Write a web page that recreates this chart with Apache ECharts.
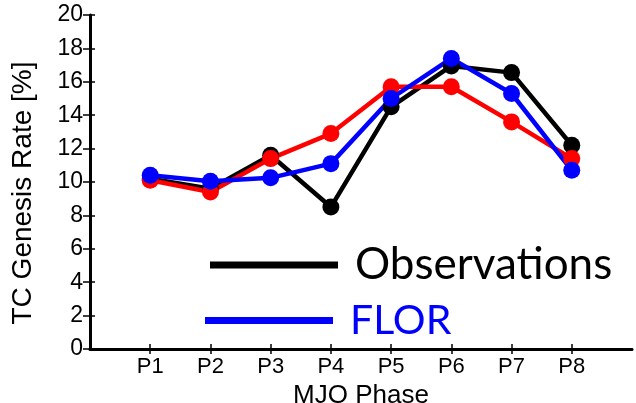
<!DOCTYPE html>
<html><head><meta charset="utf-8">
<script src="https://cdn.jsdelivr.net/npm/echarts@6/dist/echarts.min.js"></script>
<style>html,body{margin:0;padding:0;background:#fff}#c{width:636px;height:403px}</style>
</head><body><div id="c"></div>
<script>
const phases = [1, 2, 3, 4, 5, 6, 7, 8];
const phaseLabels = ['P1','P2','P3','P4','P5','P6','P7','P8'];
const observations = [10.2, 9.6, 11.6, 8.5, 14.5, 16.95, 16.55, 12.2];
const modelRed = [10.1, 9.4, 11.4, 12.9, 15.7, 15.7, 13.6, 11.4];
const flor = [10.4, 10.05, 10.25, 11.1, 15.0, 17.4, 15.3, 10.7];
const yTicks = [0, 2, 4, 6, 8, 10, 12, 14, 16, 18, 20];

const pairs = arr => phases.map((p, i) => [p, arr[i]]);
const chart = echarts.init(document.getElementById('c'));
const labelFont = 'Liberation Sans';
const mkSeries = (name, data, color) => ({
  name, type: 'line', data: pairs(data), symbol: 'circle', symbolSize: 17,
  lineStyle: {color, width: 4.5}, itemStyle: {color}, animation: false
});
chart.setOption({
  animation: false,
  grid: {left: 90, right: 4, top: 15, bottom: 54, outerBoundsMode: 'none', containLabel: false},
  xAxis: [{
    type: 'value', min: 0, max: 9, interval: 1,
    name: 'MJO Phase', nameLocation: 'middle', nameGap: 26,
    nameTextStyle: {fontSize: 26, fontFamily: labelFont, color: '#000'},
    axisLine: {lineStyle: {color: '#000', width: 3}},
    axisTick: {show: true, length: 5, lineStyle: {color: '#000', width: 1.5}, customValues: phases},
    axisLabel: {fontSize: 22, fontFamily: labelFont, color: '#000', margin: 7,
      customValues: phases,
      formatter: v => phaseLabels[v - 1] || ''},
    splitLine: {show: false}
  }, {
    type: 'value', position: 'top', min: 0, max: 9, interval: 1,
    axisLine: {show: true, lineStyle: {color: '#000', width: 2}},
    axisTick: {show: true, length: 5, lineStyle: {color: '#000', width: 1.5}, customValues: phases},
    axisLabel: {show: false}, splitLine: {show: false}
  }],
  yAxis: [{
    type: 'value', min: 0, max: 20, interval: 2,
    name: 'TC Genesis Rate [%]', nameLocation: 'middle', nameGap: 53,
    nameTextStyle: {fontSize: 28, fontFamily: labelFont, color: '#000', padding: [0, 22, 0, 0]},
    axisLine: {show: true, lineStyle: {color: '#000', width: 3}},
    axisTick: {show: true, length: 7, lineStyle: {color: '#000', width: 1.5}},
    axisLabel: {fontSize: 23, fontFamily: labelFont, color: '#000', margin: 7,
      formatter: v => yTicks.includes(v) ? String(v) : ''},
    splitLine: {show: false}
  }, {
    type: 'value', position: 'right', min: 0, max: 20, interval: 2,
    axisLine: {show: true, lineStyle: {color: '#000', width: 2}},
    axisTick: {show: true, length: 5, lineStyle: {color: '#000', width: 1.5}},
    axisLabel: {show: false}, splitLine: {show: false}
  }],
  legend: [{
    data: [{name: 'Observations', icon: 'rect'}],
    left: 205, top: 238, itemWidth: 128, itemHeight: 7,
    textStyle: {fontSize: 44, fontFamily: 'Lato', color: '#000', padding: [0, 0, 0, 12]},
    selectedMode: false
  }, {
    data: [{name: 'FLOR', icon: 'rect'}],
    left: 200, top: 295, itemWidth: 128, itemHeight: 7,
    textStyle: {fontSize: 41, fontFamily: 'Lato', color: '#0000ff', padding: [0, 0, 0, 12]},
    selectedMode: false
  }],
  series: [
    mkSeries('Observations', observations, '#000000'),
    mkSeries('Model', modelRed, '#ff0000'),
    mkSeries('FLOR', flor, '#0000ff')
  ]
});
</script></body></html>
